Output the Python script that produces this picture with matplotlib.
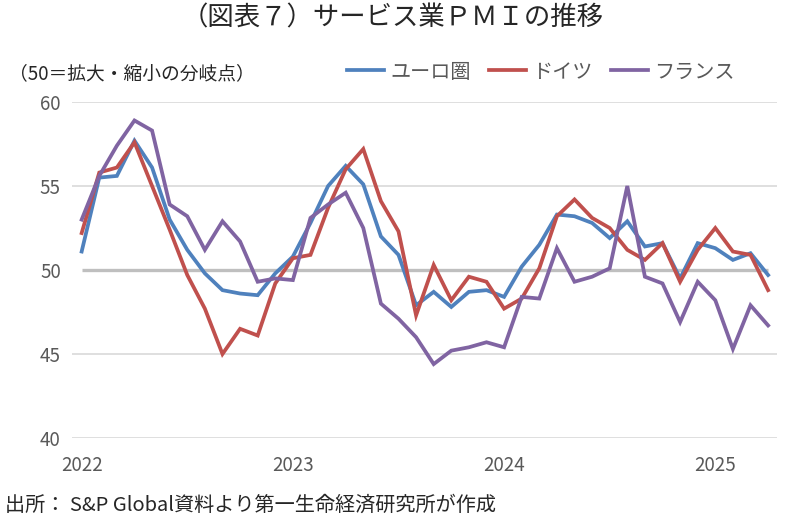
import matplotlib
matplotlib.use("Agg")
import matplotlib.pyplot as plt
import numpy as np

plt.rcParams['font.family'] = ['Noto Sans CJK JP', 'DejaVu Sans']

# monthly, Jan 2022 - Apr 2025
euro = [51.1, 55.5, 55.6, 57.7, 56.1, 53.0, 51.2, 49.8, 48.8, 48.6, 48.5, 49.8,
        50.8, 52.8, 55.0, 56.2, 55.1, 52.0, 50.9, 47.9, 48.7, 47.8, 48.7, 48.8,
        48.4, 50.2, 51.5, 53.3, 53.2, 52.8, 51.9, 52.9, 51.4, 51.6, 49.5, 51.6,
        51.3, 50.6, 51.0, 49.7]
germany = [52.2, 55.8, 56.1, 57.6, 55.0, 52.4, 49.7, 47.7, 45.0, 46.5, 46.1, 49.2,
           50.7, 50.9, 53.7, 56.0, 57.2, 54.1, 52.3, 47.3, 50.3, 48.2, 49.6, 49.3,
           47.7, 48.3, 50.1, 53.2, 54.2, 53.1, 52.5, 51.2, 50.6, 51.6, 49.3, 51.2,
           52.5, 51.1, 50.9, 48.8]
france = [53.0, 55.6, 57.4, 58.9, 58.3, 53.9, 53.2, 51.2, 52.9, 51.7, 49.3, 49.5,
          49.4, 53.1, 53.9, 54.6, 52.5, 48.0, 47.1, 46.0, 44.4, 45.2, 45.4, 45.7,
          45.4, 48.4, 48.3, 51.3, 49.3, 49.6, 50.1, 55.0, 49.6, 49.2, 46.9, 49.3,
          48.2, 45.3, 47.9, 46.7]
year_labels = ['2022', '2023', '2024', '2025']
year_pos = [0, 12, 24, 36]

x = np.arange(len(euro))

fig = plt.figure(figsize=(7.85, 5.22), dpi=100)
ax = fig.add_axes([0.0917, 0.1609, 0.898, 0.6437])

for v in [40, 45, 55, 60]:
    ax.axhline(v, color='#d9d9d9', lw=1.2, zorder=0)
ax.hlines(50, x[0], x[-1], color='#bfbfbf', lw=2.4, zorder=1)

ax.plot(x, euro, color='#4f81bd', lw=2.7, label='ユーロ圏', solid_joinstyle='miter')
ax.plot(x, germany, color='#c0504d', lw=2.7, label='ドイツ', solid_joinstyle='miter')
ax.plot(x, france, color='#8064a2', lw=2.7, label='フランス', solid_joinstyle='miter')

ax.set_xlim(-0.55, 39.5)
ax.set_ylim(40, 60)
ax.set_yticks([40, 45, 50, 55, 60])
ax.set_xticks(year_pos)
ax.set_xticklabels(year_labels)
ax.tick_params(axis='both', length=0, labelsize=13.5, colors='#595959')
ax.tick_params(axis='x', pad=12)
ax.tick_params(axis='y', pad=8)
for s in ax.spines.values():
    s.set_visible(False)

fig.text(0.5, 0.965, '（図表７）サービス業ＰＭＩの推移', ha='center', va='center',
         fontsize=19, color='#262626')
fig.text(0.012, 0.858, '（50＝拡大・縮小の分岐点）', ha='left', va='center',
         fontsize=13.5, color='#262626')
fig.text(0.006, 0.032, '出所： S&P Global資料より第一生命経済研究所が作成', ha='left', va='center',
         fontsize=14.5, color='#262626')

leg = fig.legend(loc='center left', bbox_to_anchor=(0.442, 0.862), ncol=3, frameon=False,
                 fontsize=14.5, handlelength=1.85, handletextpad=0.3, columnspacing=0.9,
                 borderaxespad=0, borderpad=0)
for t in leg.get_texts():
    t.set_color('#595959')

fig.savefig('out.png', dpi=100)
